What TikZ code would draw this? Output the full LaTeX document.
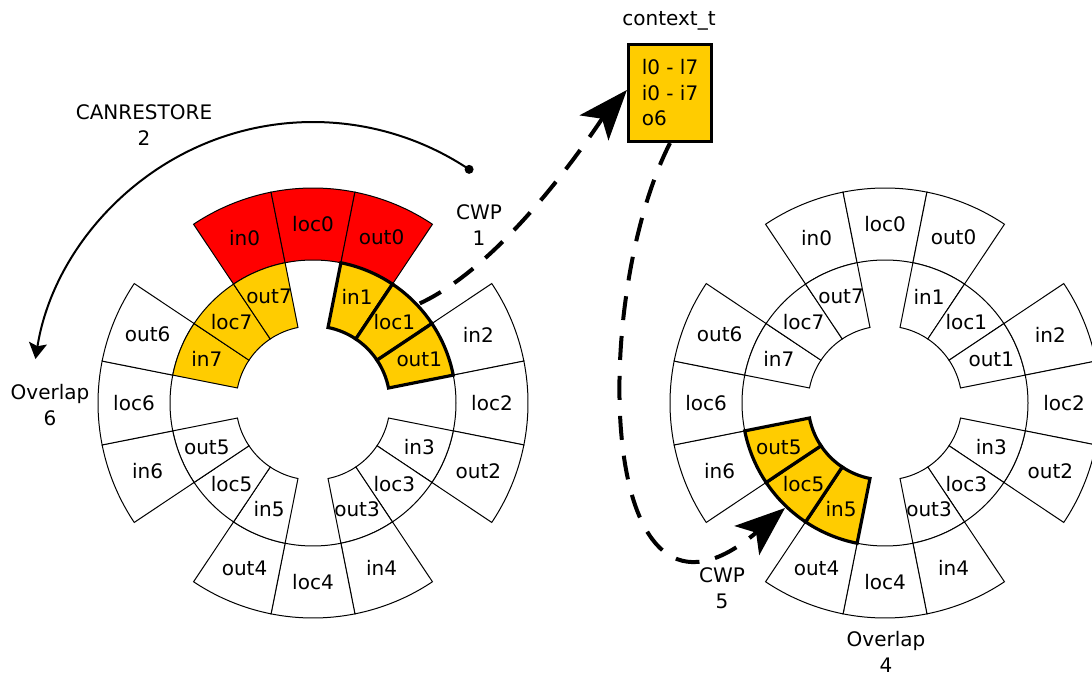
\documentclass[tikz,border=0pt]{standalone}
\usepackage{fontspec}
\setmainfont{DejaVu Sans}
\usetikzlibrary{arrows.meta,calc}

\definecolor{winyellow}{HTML}{FFCC00}
\definecolor{winred}{HTML}{FF0000}

\tikzset{
  cell/.style={draw=black, line width=0.5pt, fill=white},
  spillcell/.style={cell, fill=winred},
  validcell/.style={cell, fill=winyellow},
  curcell/.style={cell, fill=winyellow, line width=1.6pt},
  cwparrow/.style={line width=2pt, dash pattern=on 12pt off 8pt,
    -{Stealth[length=25pt, width=19pt, inset=6pt]}},
  restorearrow/.style={line width=1pt, -{Stealth[length=8pt, width=9pt, inset=1.5pt]}},
  lbl/.style={align=center},
}

% one register window (in, loc, out, clockwise); even windows sit on the outer ring
\newcommand{\regwindow}[3]{%
  \begin{scope}[shift={(#1)}]
    \pgfmathsetmacro{\wmid}{90-45*#2}
    \pgfmathsetmacro{\rin}{143-66*mod(#2,2)}
    \pgfmathsetmacro{\rout}{215-72*mod(#2,2)}
    \pgfmathsetmacro{\rlab}{(\rin+\rout)/2+5*mod(#2,2)}
    \foreach \reg [count=\j from 0] in {in,loc,out} {
      \pgfmathsetmacro{\angA}{\wmid+33.75-22.5*\j}
      \pgfmathsetmacro{\angB}{\angA-22.5}
      \pgfmathsetmacro{\angM}{\angA-11.25}
      \draw[#3] (\angA:\rin) arc[start angle=\angA, end angle=\angB, radius=\rin]
        -- (\angB:\rout) arc[start angle=\angB, end angle=\angA, radius=\rout] -- cycle;
      \node (#1-\reg#2) at (\angM:\rlab) {\reg#2};
    }
  \end{scope}
}

\begin{document}
\begin{tikzpicture}[x=0.5pt, y=0.5pt, font=\fontsize{10}{12.75}\selectfont]
  \useasboundingbox (0,0) rectangle (1092,675);

  \coordinate (L) at (313,272);
  \coordinate (R) at (885,272);

  % left wheel
  \foreach \w in {2,...,6} {\regwindow{L}{\w}{cell}}
  \regwindow{L}{0}{spillcell}
  \regwindow{L}{7}{validcell}
  \regwindow{L}{1}{curcell}

  % right wheel
  \foreach \w in {0,1,2,3,4,6,7} {\regwindow{R}{\w}{cell}}
  \regwindow{R}{5}{curcell}

  \node (ctx) [draw, line width=1.6pt, fill=winyellow, minimum width=41.5pt,
    minimum height=48.5pt, align=left] at (670,582) {l0 - l7\\i0 - i7\\o6};
  \node (ctxname) at (669,654) {context\_t};

  \node (canrestore) [lbl] at (144,550) {CANRESTORE\\2};
  \node (cwpone) [lbl] at (479,450) {CWP\\1};
  \node (overlapsix) [lbl] at (50,270) {Overlap\\6};
  \node (cwpfive) [lbl] at (722,87) {CWP\\5};
  \node (overlapfour) [lbl] at (886,23) {Overlap\\4};

  % restore arc around the left wheel
  \coordinate (restore) at ($(L)+(56.25:281)$);
  \fill (restore) circle (4.5);
  \draw[restorearrow] (restore) arc[start angle=56.25, end angle=171, radius=281];

  % save / restore of the current window
  \coordinate (cwp1) at ($(L)+(43:146)$);
  \coordinate (cwp5) at ($(R)+(226.4:145)$);
  \draw[cwparrow] (cwp1) .. controls (511,414) and (600,554) .. ([yshift=1.5pt]ctx.west);
  \draw[cwparrow] (ctx.south) .. controls (590,375) and (595,5) .. (cwp5);
\end{tikzpicture}
\end{document}
